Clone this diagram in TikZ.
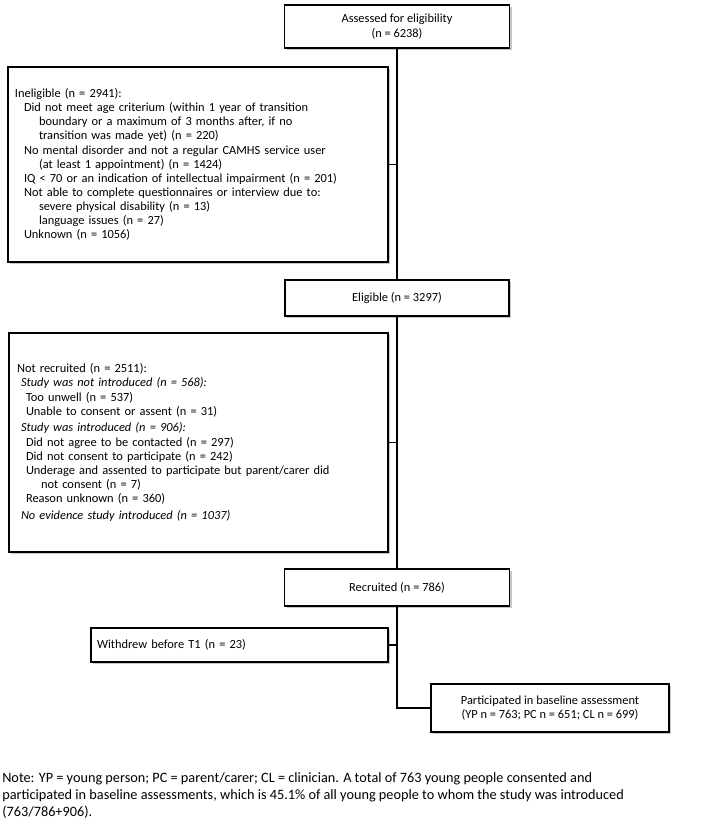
\documentclass[tikz,border=0pt]{standalone}
\usepackage{fontspec}
\setmainfont{Carlito}
\usetikzlibrary{shadows}
\newcommand\indA{\hspace*{6.75pt}}
\newcommand\indB{\hspace*{18pt}}
\begin{document}
\begin{tikzpicture}[x=0.75pt,y=-0.75pt,
  box/.style={draw, line width=1.1pt, fill=white, rectangle,
    drop shadow={shadow xshift=1.6pt, shadow yshift=-1.6pt, fill=black, opacity=0.22},
    font=\fontsize{9.3}{10.6}\selectfont},
  conn/.style={line width=1.3pt}]
\useasboundingbox (0,0) rectangle (709,826);

\node[box, minimum width=168.75pt, minimum height=32.25pt, align=center, inner sep=0pt] (assessed) at (397,26.5)
  {Assessed for eligibility\\(n = 6238)};

\node[box, minimum height=146.25pt, text width=274.5pt, inner xsep=5.25pt, inner ysep=0pt, align=left] (inelig) at (198,164.5)
  {Ineligible (n = 2941):\\
   \indA Did not meet age criterium (within 1 year of transition\\
   \indB boundary or a maximum of 3 months after, if no\\
   \indB transition was made yet) (n = 220)\\
   \indA No mental disorder and not a regular CAMHS service user\\
   \indB (at least 1 appointment) (n = 1424)\\
   \indA IQ < 70 or an indication of intellectual impairment (n = 201)\\
   \indA Not able to complete questionnaires or interview due to:\\
   \indB severe physical disability (n = 13)\\
   \indB language issues (n = 27)\\
   \indA Unknown (n = 1056)};

\node[box, minimum width=168pt, minimum height=27pt, inner sep=0pt] (elig) at (397,298)
  {Eligible (n = 3297)};

\node[box, minimum height=164.25pt, text width=272.25pt, inner xsep=6pt, inner ysep=0pt, align=left] (notrec) at (198.5,442.5)
  {Not recruited (n = 2511):\\
   \hspace*{3pt}\textit{Study was not introduced (n = 568):}\\
   \indA Too unwell (n = 537)\\
   \indA Unable to consent or assent (n = 31)\\[1.9pt]
   \hspace*{3pt}\textit{Study was introduced (n = 906):}\\
   \indA Did not agree to be contacted (n = 297)\\
   \indA Did not consent to participate (n = 242)\\
   \indA Underage and assented to participate but parent/carer did\\
   \indB not consent (n = 7)\\
   \indA Reason unknown (n = 360)\\[1.9pt]
   \hspace*{3pt}\textit{No evidence study introduced (n = 1037)}};

\node[box, minimum width=168.75pt, minimum height=27.75pt, inner sep=0pt] (recr) at (397,587.5)
  {Recruited (n = 786)};

\node[box, minimum height=25.5pt, text width=213.75pt, inner xsep=4.5pt, inner ysep=0pt, align=left] (withdrew) at (239.5,645)
  {Withdrew before T1 (n = 23)};

\node[box, minimum width=178.5pt, minimum height=36pt, align=center, inner sep=0pt] (part) at (550,708)
  {Participated in baseline assessment\\(YP n = 763; PC n = 651; CL n = 699)};

\draw[conn] (assessed.south) -- (elig.north);
\draw[conn] (inelig.east) -- (inelig.east -| assessed.south);
\draw[conn] (elig.south) -- (recr.north);
\draw[conn] (notrec.east) -- (notrec.east -| elig.south);
\draw[conn] (recr.south) |- (part.west);
\draw[conn] (withdrew.east) -- (withdrew.east -| recr.south);

\node[anchor=base west, inner sep=0pt, align=left, font=\fontsize{10.7}{12.75}\selectfont] (note) at (2,816)
  {Note: YP = young person; PC = parent/carer; CL = clinician. A total of 763 young people consented and\\
   participated in baseline assessments, which is 45.1\% of all young people to whom the study was introduced\\
   (763/786+906).};
\end{tikzpicture}
\end{document}
